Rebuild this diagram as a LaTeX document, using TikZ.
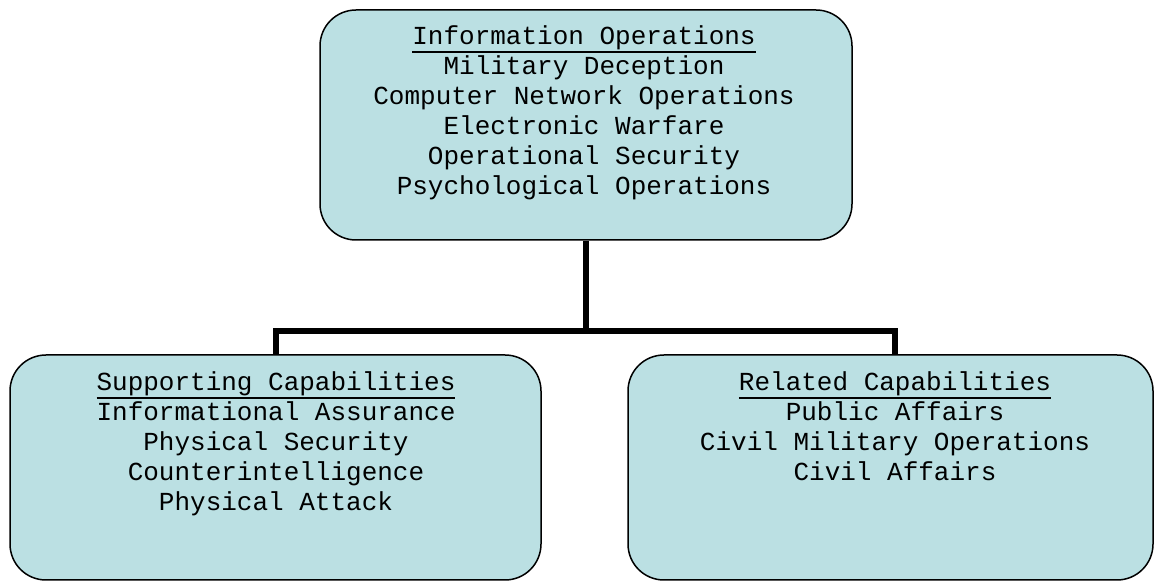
\documentclass[tikz,border=0pt]{standalone}
\usepackage{fontspec}
\newfontfamily\courfont{Liberation Mono}
\usepackage{tikz}
\usetikzlibrary{calc}
\definecolor{boxfill}{RGB}{187,224,227}
\newcommand{\capul}[1]{\setbox0\hbox{#1}\rlap{\rule[-8pt]{\wd0}{2pt}}\box0}
\tikzset{capbox/.style={draw=black,line width=1.5pt,fill=boxfill,rounded corners=36pt,inner sep=0pt},
	captext/.style={align=center,anchor=base,inner sep=0pt,font=\courfont\fontsize{26}{30}\selectfont},
	conn/.style={draw=black,line width=6pt}}

\begin{document}
\begin{tikzpicture}[line join=miter,x=1pt,y=1pt]
			\useasboundingbox (0,0) rectangle (1156,583);
			\node[capbox,minimum width=532pt,minimum height=230pt] (io) at (586,458) {};
			\node[capbox,minimum width=531pt,minimum height=225pt] (sc) at (275.5,115.5) {};
			\node[capbox,minimum width=525pt,minimum height=225pt] (rc) at (890.5,115.5) {};
			\node[captext] (io-text) at (584,388) {\capul{Information Operations}\\Military Deception\\Computer Network Operations\\Electronic Warfare\\Operational Security\\Psychological Operations};
			\node[captext] (sc-text) at (276,72) {\capul{Supporting Capabilities}\\Informational Assurance\\Physical Security\\Counterintelligence\\Physical Attack};
			\node[captext] (rc-text) at (895,102) {\capul{Related Capabilities}\\Public Affairs\\Civil Military Operations\\Civil Affairs};
			\coordinate (split) at (586,252);
			\coordinate (rc-top) at ($(rc.north)+(4.5,0)$);
			\draw[conn] (io.south) -- (split);
			\draw[conn] (sc.north) -- (sc.north |- split) -- (rc-top |- split) -- (rc-top);
\end{tikzpicture}
\end{document}
